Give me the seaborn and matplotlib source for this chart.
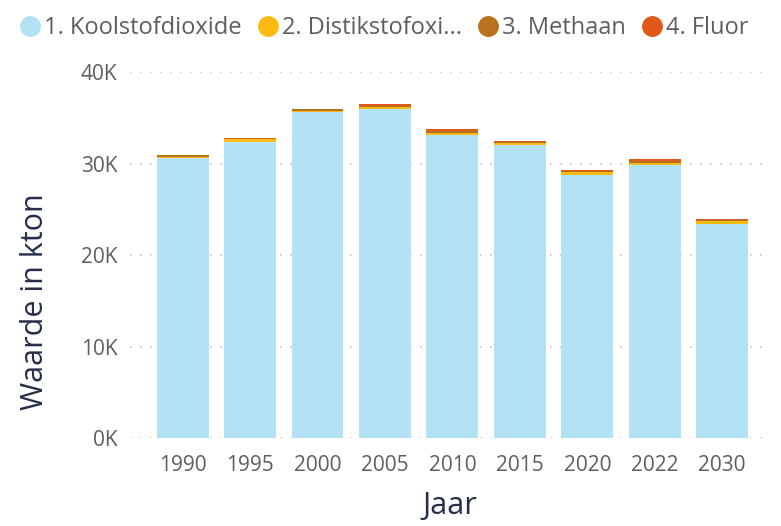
import matplotlib
matplotlib.use("Agg")
import matplotlib.pyplot as plt
from matplotlib.lines import Line2D
import seaborn as sns
import pandas as pd
import numpy as np

sns.set_style("white")
plt.rcParams['font.family'] = ['Open Sans', 'DejaVu Sans']

# data (kton)
jaren = ["1990", "1995", "2000", "2005", "2010", "2015", "2020", "2022", "2030"]
koolstofdioxide = [30600, 32400, 35600, 36000, 33100, 32000, 28700, 29900, 23400]
distikstofoxide = [100, 250, 200, 150, 250, 250, 350, 200, 350]
methaan = [200, 150, 150, 150, 250, 100, 150, 200, 100]
fluor = [50, 50, 50, 200, 150, 100, 50, 200, 50]

reeksen = ["1. Koolstofdioxide", "2. Distikstofoxi...", "3. Methaan", "4. Fluor"]
kleuren = ["#B3E2F4", "#FDBA12", "#B8711C", "#E0581A"]

df = pd.DataFrame({"Jaar": jaren,
                   reeksen[0]: koolstofdioxide,
                   reeksen[1]: distikstofoxide,
                   reeksen[2]: methaan,
                   reeksen[3]: fluor})

fig = plt.figure(figsize=(7.81, 5.26), dpi=100)
ax = fig.add_axes([0.1665, 0.167, 0.8195, 0.696])

# stacked bars: draw cumulative totals from top series down
cum = df[reeksen].cumsum(axis=1)
for i in range(len(reeksen) - 1, -1, -1):
    sns.barplot(x=df["Jaar"], y=cum[reeksen[i]], color=kleuren[i],
                width=0.77, ax=ax, saturation=1, edgecolor="none")

ax.set_xlim(-0.78, 8.71)
ax.set_ylim(0, 40000)
ax.set_yticks([0, 10000, 20000, 30000, 40000])
ax.set_yticklabels(["0K", "10K", "20K", "30K", "40K"])
ax.yaxis.grid(True, linestyle=(0, (1, 5)), color="#C8C8C8", linewidth=1.2)
ax.set_axisbelow(True)
for s in ax.spines.values():
    s.set_visible(False)
ax.tick_params(axis="both", colors="#605E5C", labelsize=15, length=0)
ax.tick_params(axis="x", pad=12)
ax.tick_params(axis="y", pad=9)

ax.set_xlabel("Jaar", fontsize=22, color="#252F4A")
ax.set_ylabel("Waarde in kton", fontsize=22, color="#252F4A")
ax.xaxis.set_label_coords(0.5, -0.145)
ax.yaxis.set_label_coords(-0.125, 0.372)

handles = [Line2D([0], [0], marker="o", linestyle="none", markersize=14,
                  markerfacecolor=c, markeredgecolor=c) for c in kleuren]
fig.legend(handles, reeksen, loc="upper left", bbox_to_anchor=(-0.007, 1.01),
           ncol=4, frameon=False, fontsize=17, handletextpad=0.0,
           columnspacing=0.5, labelcolor="#605E5C", handlelength=1.2)

fig.savefig("out.png", dpi=100)
